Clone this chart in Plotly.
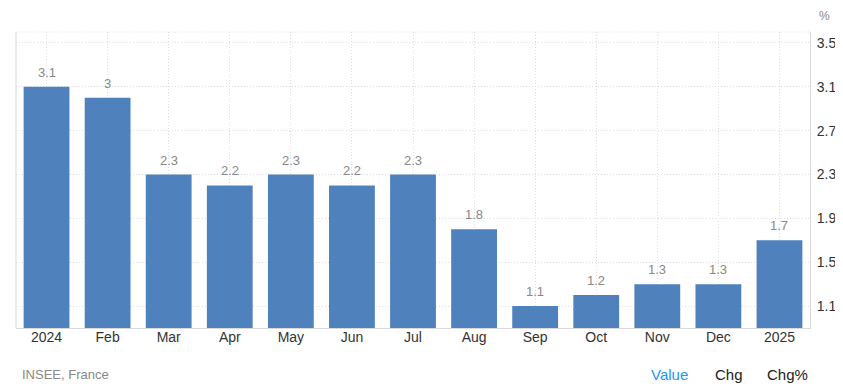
import plotly.graph_objects as go

categories = ["2024", "Feb", "Mar", "Apr", "May", "Jun", "Jul", "Aug", "Sep", "Oct", "Nov", "Dec", "2025"]
values = [3.1, 3.0, 2.3, 2.2, 2.3, 2.2, 2.3, 1.8, 1.1, 1.2, 1.3, 1.3, 1.7]
value_labels = ["3.1", "3", "2.3", "2.2", "2.3", "2.2", "2.3", "1.8", "1.1", "1.2", "1.3", "1.3", "1.7"]
y_ticks = [1.1, 1.5, 1.9, 2.3, 2.7, 3.1, 3.5]
y_tick_labels = ["1.1", "1.5", "1.9", "2.3", "2.7", "3.1", "3.5"]

FONT = "Liberation Sans, Arial, sans-serif"

# The page body has an 8px margin, so the figure is made 8px smaller
# and its margins reduced accordingly.
OFF = 8
GRID = "#dddddd"
DASH = "1px,2px"

fig = go.Figure()
fig.add_trace(go.Bar(
    x=categories, y=values, marker=dict(color="#4f81bd", line=dict(width=0)),
    base=0, hoverinfo="x+y", showlegend=False,
))

for i, (v, t) in enumerate(zip(values, value_labels)):
    fig.add_annotation(x=i, y=v, text=t, showarrow=False, yanchor="bottom",
                       yshift=5, font=dict(family=FONT, size=13, color="#888888"))

fig.add_annotation(xref="paper", yref="paper", x=1.0, y=1.0, xanchor="left", yanchor="bottom",
                   xshift=8, yshift=8, borderpad=0, text="%", showarrow=False,
                   font=dict(family=FONT, size=12, color="#888888"))
fig.add_annotation(xref="paper", yref="paper", x=0, y=0, xanchor="left", yanchor="middle",
                   xshift=4, yshift=-46, text="INSEE, France", showarrow=False,
                   font=dict(family=FONT, size=13, color="#888888"))
for txt, xpix, col in [("Value", 649, "#2196f3"), ("Chg", 713, "#222222"), ("Chg%", 765, "#222222")]:
    fig.add_annotation(xref="paper", yref="paper", x=(xpix - 15.7) / 794.0, y=0,
                       xanchor="left", yanchor="middle", yshift=-46, text=txt, showarrow=False,
                       font=dict(family=FONT, size=15, color=col))

fig.update_layout(
    width=843 - OFF, height=392 - OFF,
    margin=dict(l=16 - OFF, r=33, t=32 - OFF, b=64, pad=0, autoexpand=False),
    paper_bgcolor="white", plot_bgcolor="white",
    bargap=0.25,
    font=dict(family=FONT, size=14, color="#333333"),
    xaxis=dict(
        type="category", range=[-0.5, 12.5],
        showgrid=True, gridcolor=GRID, griddash=DASH, gridwidth=1,
        showline=True, linecolor="#d9d9d9", linewidth=1,
        ticks="", tickfont=dict(size=14, color="#333333"),
        ticklabelstandoff=-4,
        zeroline=False, automargin=False,
    ),
    yaxis=dict(
        side="right", range=[0.9, 3.6],
        tickvals=y_ticks, ticktext=y_tick_labels,
        showgrid=True, gridcolor=GRID, griddash=DASH, gridwidth=1,
        showline=True, linecolor="#d9d9d9", linewidth=1,
        ticks="", tickfont=dict(size=14, color="#333333"),
        ticklabelstandoff=3,
        zeroline=False, automargin=False,
    ),
)

# left border and top dotted line
fig.add_shape(type="line", xref="paper", yref="paper", x0=0, x1=0, y0=0, y1=1,
              line=dict(color="#d9d9d9", width=1))
fig.add_shape(type="line", xref="paper", yref="paper", x0=0, x1=1, y0=1, y1=1,
              line=dict(color=GRID, width=1, dash=DASH))

fig.write_html("out.html")
